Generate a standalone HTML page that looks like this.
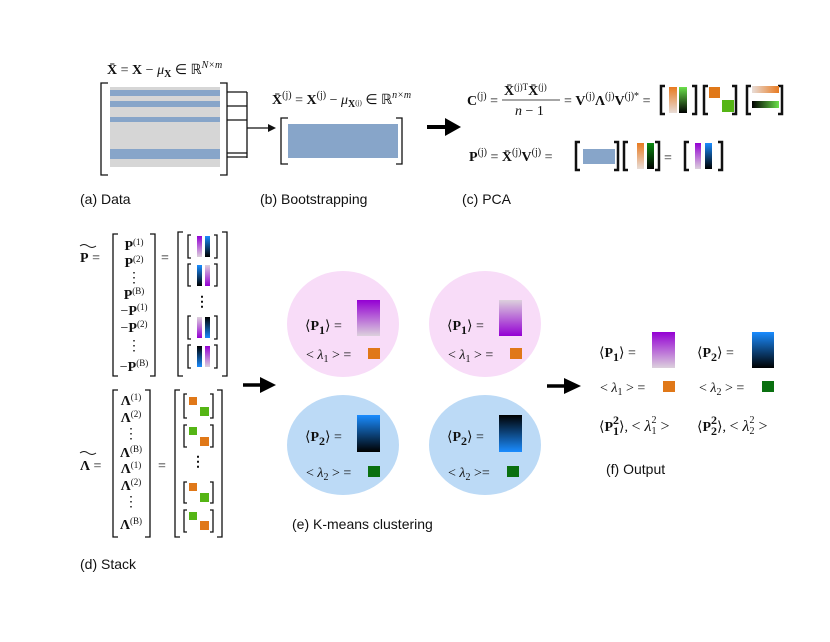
<!DOCTYPE html>
<html><head><meta charset="utf-8"><style>
html,body{margin:0;padding:0;background:#fff}
svg{display:block}
.m{font-family:"Liberation Serif",serif;font-size:14px;fill:#111}
.b{font-weight:bold}
.l{font-family:"Liberation Sans",sans-serif;font-size:14px;fill:#111}
.br{fill:none;stroke:#111;stroke-width:1.3}
.bk{fill:none;stroke:#111;stroke-width:2.5}
</style></head><body>
<svg width="830" height="642" viewBox="0 0 830 642" xmlns="http://www.w3.org/2000/svg">
<defs>
<linearGradient id="pu" x1="0" y1="0" x2="0" y2="1"><stop offset="0" stop-color="#9400d3"/><stop offset="1" stop-color="#dcd0dc"/></linearGradient>
<linearGradient id="puR" x1="0" y1="1" x2="0" y2="0"><stop offset="0" stop-color="#9400d3"/><stop offset="1" stop-color="#dcd0dc"/></linearGradient>
<linearGradient id="bl" x1="0" y1="0" x2="0" y2="1"><stop offset="0" stop-color="#1a8cff"/><stop offset="1" stop-color="#000"/></linearGradient>
<linearGradient id="blR" x1="0" y1="1" x2="0" y2="0"><stop offset="0" stop-color="#1a8cff"/><stop offset="1" stop-color="#000"/></linearGradient>
<linearGradient id="or" x1="0" y1="0" x2="0" y2="1"><stop offset="0" stop-color="#e87a20"/><stop offset="1" stop-color="#e8ddd8"/></linearGradient>
<linearGradient id="gr" x1="0" y1="0" x2="0" y2="1"><stop offset="0" stop-color="#6be04a"/><stop offset="1" stop-color="#000"/></linearGradient>
<linearGradient id="gr2" x1="0" y1="0" x2="0" y2="1"><stop offset="0" stop-color="#0a8a10"/><stop offset="1" stop-color="#000"/></linearGradient>
<linearGradient id="orH" x1="0" y1="0" x2="1" y2="0"><stop offset="0" stop-color="#e8ddd8"/><stop offset="1" stop-color="#e87a20"/></linearGradient>
<linearGradient id="grH" x1="0" y1="0" x2="1" y2="0"><stop offset="0" stop-color="#000"/><stop offset="1" stop-color="#6be04a"/></linearGradient>
</defs>

<!-- (a) Data -->
<text class="m" x="107" y="74" font-size="15"><tspan class="b">X̄</tspan> = <tspan class="b">X</tspan> − <tspan font-style="italic">μ</tspan><tspan class="b" font-size="10" dy="3">X</tspan><tspan dy="-3"> ∈ ℝ</tspan><tspan font-size="10" dy="-6" font-style="italic">N×m</tspan></text>
<rect x="110" y="87" width="110" height="80" fill="#d6d6d6"/>
<rect x="110" y="90" width="110" height="6" fill="#87a5c9"/>
<rect x="110" y="101" width="110" height="6" fill="#87a5c9"/>
<rect x="110" y="117" width="110" height="5" fill="#87a5c9"/>
<rect x="110" y="149" width="110" height="10" fill="#87a5c9"/>
<path class="br" d="M108,83 H101 V175 H108 M220,83 H227 V175 H220"/>
<path class="br" d="M227,92 H247 M227,106 H247 M227,120 H247 M227,153 H247 M227,157 H247 M247,92 V158 M247,128 H270"/>
<path d="M268,124 L276,128 L268,132 Z" fill="#111"/>
<text class="l" x="80" y="204">(a)  Data</text>

<!-- (b) -->
<text class="m" x="272" y="104" font-size="15"><tspan class="b">X̄</tspan><tspan font-size="10" dy="-6">(j)</tspan><tspan dy="6"> = </tspan><tspan class="b">X</tspan><tspan font-size="10" dy="-6">(j)</tspan><tspan dy="6"> − </tspan><tspan font-style="italic">μ</tspan><tspan class="b" font-size="10" dy="3">X</tspan><tspan font-size="7" dy="-2">(j)</tspan><tspan dy="-1"> ∈ ℝ</tspan><tspan font-size="10" dy="-6" font-style="italic">n×m</tspan></text>
<rect x="288" y="124" width="110" height="34" fill="#87a5c9"/>
<path class="br" d="M288,118 H281 V164 H288 M396,118 H402 V164 H396"/>
<text class="l" x="260" y="204">(b)  Bootstrapping</text>

<path d="M427,127 H447" stroke="#000" stroke-width="4"/>
<path d="M445,118 L461,127 L445,136 Z" fill="#000"/>

<!-- (c) PCA -->
<text class="m" x="467" y="105" font-size="15"><tspan class="b">C</tspan><tspan font-size="10" dy="-6">(j)</tspan><tspan dy="6"> =</tspan></text>
<text class="m" x="504" y="95" font-size="13"><tspan class="b">X̄</tspan><tspan font-size="9" dy="-5">(j)T</tspan><tspan class="b" dy="5">X̄</tspan><tspan font-size="9" dy="-5">(j)</tspan></text>
<line x1="502" y1="100" x2="560" y2="100" stroke="#111" stroke-width="0.8"/>
<text class="m" x="515" y="115" font-size="14" font-style="italic">n <tspan font-style="normal">− 1</tspan></text>
<text class="m" x="564" y="105" font-size="15">= <tspan class="b">V</tspan><tspan font-size="10" dy="-6">(j)</tspan><tspan class="b" dy="6">Λ</tspan><tspan font-size="10" dy="-6">(j)</tspan><tspan class="b" dy="6">V</tspan><tspan font-size="10" dy="-6">(j)*</tspan><tspan dy="6"> =</tspan></text>
<path class="bk" d="M665,86 H661 V114 H665 M692,86 H696 V114 H692"/>
<rect x="669" y="87" width="8" height="26" fill="url(#or)"/>
<rect x="679" y="87" width="8" height="26" fill="url(#gr)"/>
<path class="bk" d="M708,86 H704 V114 H708 M732,86 H736 V114 H732"/>
<rect x="709" y="87" width="11" height="11" fill="#e07818"/>
<rect x="722" y="100" width="12" height="12" fill="#55b515"/>
<path class="bk" d="M751,86 H747 V114 H751 M778,86 H782 V114 H778"/>
<rect x="752" y="86" width="27" height="7" fill="url(#orH)"/>
<rect x="752" y="101" width="27" height="7" fill="url(#grH)"/>

<text class="m" x="469" y="161" font-size="15"><tspan class="b">P</tspan><tspan font-size="10" dy="-6">(j)</tspan><tspan dy="6"> = </tspan><tspan class="b">X̄</tspan><tspan font-size="10" dy="-6">(j)</tspan><tspan class="b" dy="6">V</tspan><tspan font-size="10" dy="-6">(j)</tspan><tspan dy="6"> =</tspan></text>
<path class="bk" d="M580,142 H576 V170 H580 M614,142 H618 V170 H614"/>
<rect x="583" y="149" width="32" height="15" fill="#87a5c9"/>
<path class="bk" d="M628,142 H624 V170 H628 M655,142 H659 V170 H655"/>
<rect x="637" y="143" width="7" height="26" fill="url(#or)"/>
<rect x="647" y="143" width="7" height="26" fill="url(#gr2)"/>
<text class="m" x="664" y="162" font-size="17">=</text>
<path class="bk" d="M689,142 H685 V170 H689 M718,142 H722 V170 H718"/>
<rect x="695" y="143" width="6" height="26" fill="url(#pu)"/>
<rect x="705" y="143" width="7" height="26" fill="url(#bl)"/>
<text class="l" x="462" y="204">(c)  PCA</text>

<!-- (d) Stack -->
<text class="m" x="80" y="262" font-size="15"><tspan class="b">P</tspan> =</text>
<path d="M80,246 q4,-3 8,0 t8,0" fill="none" stroke="#111" stroke-width="0.9"/>
<path class="br" d="M118,234 H113 V376 H118 M150,234 H155 V376 H150"/>
<g class="m" font-size="13" text-anchor="middle">
<text x="134" y="250"><tspan class="b">P</tspan><tspan font-size="9" dy="-5">(1)</tspan></text>
<text x="134" y="267"><tspan class="b">P</tspan><tspan font-size="9" dy="-5">(2)</tspan></text>
<text x="134" y="282">⋮</text>
<text x="134" y="299"><tspan class="b">P</tspan><tspan font-size="9" dy="-5">(B)</tspan></text>
<text x="134" y="315">−<tspan class="b">P</tspan><tspan font-size="9" dy="-5">(1)</tspan></text>
<text x="134" y="332">−<tspan class="b">P</tspan><tspan font-size="9" dy="-5">(2)</tspan></text>
<text x="134" y="350">⋮</text>
<text x="134" y="371">−<tspan class="b">P</tspan><tspan font-size="9" dy="-5">(B)</tspan></text>
</g>
<text class="m" x="161" y="262" font-size="15">=</text>
<path class="br" d="M183,232 H178 V376 H183 M222,232 H227 V376 H222"/>
<g>
<path class="br" d="M191,235 H188 V258 H191 M214,235 H217 V258 H214"/>
<rect x="197" y="236" width="5" height="21" fill="url(#pu)"/><rect x="205" y="236" width="5" height="21" fill="url(#bl)"/>
<path class="br" d="M191,264 H188 V286 H191 M214,264 H217 V286 H214"/>
<rect x="197" y="265" width="5" height="21" fill="url(#bl)"/><rect x="205" y="265" width="5" height="21" fill="url(#puR)"/>
<text class="m b" x="202" y="306" font-size="14" text-anchor="middle">⋮</text>
<path class="br" d="M191,316 H188 V339 H191 M214,316 H217 V339 H214"/>
<rect x="197" y="317" width="5" height="21" fill="url(#puR)"/><rect x="205" y="317" width="5" height="21" fill="url(#blR)"/>
<path class="br" d="M191,345 H188 V368 H191 M214,345 H217 V368 H214"/>
<rect x="197" y="346" width="5" height="21" fill="url(#blR)"/><rect x="205" y="346" width="5" height="21" fill="url(#pu)"/>
</g>

<text class="m" x="80" y="470" font-size="15"><tspan class="b">Λ</tspan> =</text>
<path d="M80,453 q4,-3 8,0 t8,0" fill="none" stroke="#111" stroke-width="0.9"/>
<path class="br" d="M118,390 H113 V537 H118 M145,390 H150 V537 H145"/>
<g class="m" font-size="13" text-anchor="middle">
<text x="131" y="405"><tspan class="b">Λ</tspan><tspan font-size="9" dy="-5">(1)</tspan></text>
<text x="131" y="422"><tspan class="b">Λ</tspan><tspan font-size="9" dy="-5">(2)</tspan></text>
<text x="131" y="438">⋮</text>
<text x="131" y="457"><tspan class="b">Λ</tspan><tspan font-size="9" dy="-5">(B)</tspan></text>
<text x="131" y="473"><tspan class="b">Λ</tspan><tspan font-size="9" dy="-5">(1)</tspan></text>
<text x="131" y="490"><tspan class="b">Λ</tspan><tspan font-size="9" dy="-5">(2)</tspan></text>
<text x="131" y="506">⋮</text>
<text x="131" y="529"><tspan class="b">Λ</tspan><tspan font-size="9" dy="-5">(B)</tspan></text>
</g>
<text class="m" x="158" y="470" font-size="15">=</text>
<path class="br" d="M180,390 H175 V537 H180 M217,390 H222 V537 H217"/>
<g>
<path class="br" d="M187,394 H184 V418 H187 M210,394 H213 V418 H210"/>
<rect x="189" y="397" width="8" height="8" fill="#e07818"/><rect x="200" y="407" width="9" height="9" fill="#55b515"/>
<path class="br" d="M187,425 H184 V447 H187 M210,425 H213 V447 H210"/>
<rect x="189" y="427" width="8" height="8" fill="#55b515"/><rect x="200" y="437" width="9" height="9" fill="#e07818"/>
<text class="m b" x="198" y="466" font-size="14" text-anchor="middle">⋮</text>
<path class="br" d="M187,482 H184 V503 H187 M210,482 H213 V503 H210"/>
<rect x="189" y="483" width="8" height="8" fill="#e07818"/><rect x="200" y="493" width="9" height="9" fill="#55b515"/>
<path class="br" d="M187,510 H184 V532 H187 M210,510 H213 V532 H210"/>
<rect x="189" y="512" width="8" height="8" fill="#55b515"/><rect x="200" y="521" width="9" height="9" fill="#e07818"/>
</g>
<text class="l" x="80" y="569">(d)  Stack</text>

<path d="M243,385 H262" stroke="#000" stroke-width="3.5"/>
<path d="M260,377 L276,385 L260,393 Z" fill="#000"/>

<!-- (e) K-means -->
<ellipse cx="343" cy="324" rx="56" ry="53" fill="#f8dcf8"/>
<ellipse cx="485" cy="324" rx="56" ry="53" fill="#f8dcf8"/>
<ellipse cx="343" cy="445" rx="56" ry="50" fill="#bcdaf6"/>
<ellipse cx="485" cy="445" rx="56" ry="50" fill="#bcdaf6"/>
<g class="m" font-size="19">
<text x="305" y="330">⟨<tspan class="b">P</tspan><tspan class="b" font-size="12" dy="4">1</tspan><tspan dy="-4">⟩ =</tspan></text>
<text x="447" y="330">⟨<tspan class="b">P</tspan><tspan class="b" font-size="12" dy="4">1</tspan><tspan dy="-4">⟩ =</tspan></text>
<text x="305" y="441">⟨<tspan class="b">P</tspan><tspan class="b" font-size="12" dy="4">2</tspan><tspan dy="-4">⟩ =</tspan></text>
<text x="447" y="441">⟨<tspan class="b">P</tspan><tspan class="b" font-size="12" dy="4">2</tspan><tspan dy="-4">⟩ =</tspan></text>
</g>
<g class="m" font-size="16">
<text x="306" y="359">&lt; <tspan font-style="italic">λ</tspan><tspan font-size="10" dy="3">1</tspan><tspan dy="-3"> &gt; =</tspan></text>
<text x="448" y="359">&lt; <tspan font-style="italic">λ</tspan><tspan font-size="10" dy="3">1</tspan><tspan dy="-3"> &gt; =</tspan></text>
<text x="306" y="477">&lt; <tspan font-style="italic">λ</tspan><tspan font-size="10" dy="3">2</tspan><tspan dy="-3"> &gt; =</tspan></text>
<text x="448" y="477">&lt; <tspan font-style="italic">λ</tspan><tspan font-size="10" dy="3">2</tspan><tspan dy="-3"> &gt;=</tspan></text>
</g>
<rect x="357" y="300" width="23" height="36" fill="url(#pu)"/>
<rect x="499" y="300" width="23" height="36" fill="url(#puR)"/>
<rect x="357" y="415" width="23" height="37" fill="url(#bl)"/>
<rect x="499" y="415" width="23" height="37" fill="url(#blR)"/>
<rect x="368" y="348" width="12" height="11" fill="#e07818"/>
<rect x="510" y="348" width="12" height="11" fill="#e07818"/>
<rect x="368" y="466" width="12" height="11" fill="#0a7010"/>
<rect x="507" y="466" width="12" height="11" fill="#0a7010"/>
<text class="l" x="292" y="529">(e)  K-means clustering</text>

<path d="M547,386 H566" stroke="#000" stroke-width="3.5"/>
<path d="M564,378 L581,386 L564,394 Z" fill="#000"/>

<!-- (f) Output -->
<g class="m" font-size="19">
<text x="599" y="357">⟨<tspan class="b">P</tspan><tspan class="b" font-size="12" dy="4">1</tspan><tspan dy="-4">⟩ =</tspan></text>
<text x="697" y="357">⟨<tspan class="b">P</tspan><tspan class="b" font-size="12" dy="4">2</tspan><tspan dy="-4">⟩ =</tspan></text>
<text x="599" y="431">⟨<tspan class="b">P</tspan><tspan class="b" font-size="12" dy="-7">2</tspan><tspan class="b" font-size="12" dx="-6" dy="11">1</tspan><tspan dy="-4">⟩, </tspan><tspan font-size="16">&lt; <tspan font-style="italic">λ</tspan><tspan font-size="10" dy="3">1</tspan><tspan font-size="10" dx="-5" dy="-11">2</tspan><tspan dy="8"> &gt;</tspan></tspan></text>
<text x="697" y="431">⟨<tspan class="b">P</tspan><tspan class="b" font-size="12" dy="-7">2</tspan><tspan class="b" font-size="12" dx="-6" dy="11">2</tspan><tspan dy="-4">⟩, </tspan><tspan font-size="16">&lt; <tspan font-style="italic">λ</tspan><tspan font-size="10" dy="3">2</tspan><tspan font-size="10" dx="-5" dy="-11">2</tspan><tspan dy="8"> &gt;</tspan></tspan></text>
</g>
<g class="m" font-size="16">
<text x="600" y="392">&lt; <tspan font-style="italic">λ</tspan><tspan font-size="10" dy="3">1</tspan><tspan dy="-3"> &gt; =</tspan></text>
<text x="699" y="392">&lt; <tspan font-style="italic">λ</tspan><tspan font-size="10" dy="3">2</tspan><tspan dy="-3"> &gt; =</tspan></text>
</g>
<rect x="652" y="332" width="23" height="36" fill="url(#pu)"/>
<rect x="752" y="332" width="22" height="36" fill="url(#bl)"/>
<rect x="663" y="381" width="12" height="11" fill="#e07818"/>
<rect x="762" y="381" width="12" height="11" fill="#0a7010"/>
<text class="l" x="606" y="474">(f)   Output</text>
</svg>
</body></html>
